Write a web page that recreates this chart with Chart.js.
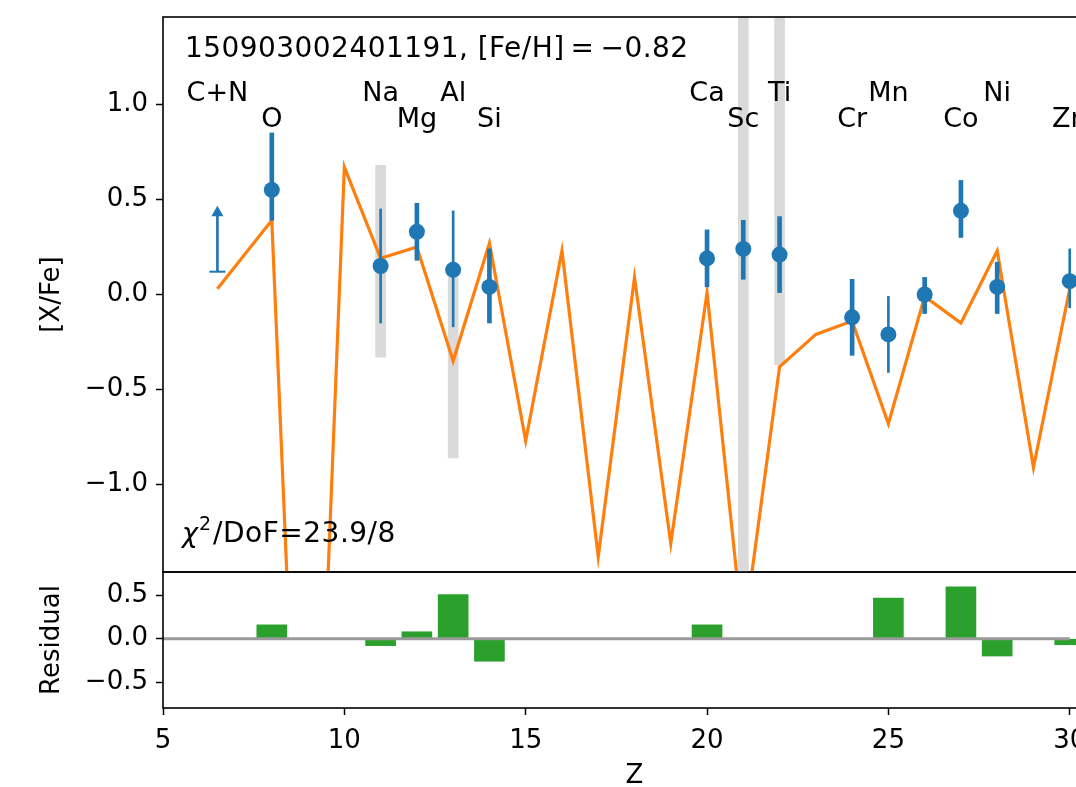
<!DOCTYPE html>
<html>
<head>
<meta charset="utf-8">
<script src="https://cdn.jsdelivr.net/npm/chart.js@4.4.1/dist/chart.umd.min.js"></script>
<style>
  html, body { margin: 0; padding: 0; overflow: hidden; background: #fff; }
  #wrap { position: relative; width: 1076px; height: 787px; overflow: hidden; }
  canvas { position: absolute; left: 0; top: 0; }
</style>
</head>
<body>
<div id="wrap">
  <canvas id="resid" width="1110" height="787"></canvas>
  <canvas id="abund" width="1110" height="787"></canvas>
</div>
<script>
// star header
const starId = "150903002401191";
const feH = -0.82;
const chi2 = 23.9;
const dof = 8;

// measured abundances
const elements = ["O", "Na", "Mg", "Al", "Si", "Ca", "Sc", "Ti", "Cr", "Mn", "Fe", "Co", "Ni", "Zn"];
const elemZ    = [8, 11, 12, 13, 14, 20, 21, 22, 24, 25, 26, 27, 28, 30];
const xfe      = [0.55, 0.15, 0.33, 0.13, 0.04, 0.19, 0.24, 0.21, -0.12, -0.21, 0.00, 0.44, 0.04, 0.07];
const errUp    = [0.30, 0.30, 0.15, 0.31, 0.20, 0.15, 0.15, 0.20, 0.20, 0.20, 0.09, 0.16, 0.13, 0.17];
const errDown  = [0.16, 0.30, 0.15, 0.30, 0.19, 0.15, 0.16, 0.20, 0.20, 0.20, 0.10, 0.14, 0.14, 0.14];
const thinErr  = ["Na", "Al", "Mn", "Zn"]; // drawn with the narrow bar

// C+N is a lower limit
const cnZ = 6.5;
const cnLow = 0.12;
const cnHigh = 0.43;

// labels above the points
const labelNames = ["C+N", "O", "Na", "Mg", "Al", "Si", "Ca", "Sc", "Ti", "Cr", "Mn", "Co", "Ni", "Zn"];
const labelZ     = [6.5, 8, 11, 12, 13, 14, 20, 21, 22, 24, 25, 27, 28, 30];

// best fit yield model
const modelZ   = [6.5, 8, 9, 10, 11, 12, 13, 14, 15, 16, 17, 18, 19, 20, 21, 22, 23, 24, 25, 26, 27, 28, 29, 30];
const modelXFe = [0.03, 0.39, -4.1, 0.67, 0.19, 0.25, -0.35, 0.27, -0.77, 0.23, -1.38, 0.09, -1.31, 0.01,
                  -1.8, -0.38, -0.21, -0.14, -0.68, -0.01, -0.15, 0.23, -0.91, 0.03];

// model spread for some elements
const bandZ  = [11, 13, 21, 22];
const bandLo = [-0.33, -0.86, -2.0, -0.37];
const bandHi = [0.68, 0.09, 2.0, 2.0];

// residuals (data - model)
const resZ   = [6.5, 8, 11, 12, 13, 14, 20, 21, 22, 24, 25, 26, 27, 28, 30];
const resVal = [-0.01, 0.16, -0.08, 0.08, 0.51, -0.26, 0.16, -0.01, -0.01, -0.01, 0.47, -0.01, 0.60, -0.20, -0.07];
const zeroZ  = [5, 30];

// axes
const xMin = 5, xMax = 31;
const xTicks = [5, 10, 15, 20, 25, 30];
const yTopRange = [-1.46, 1.46];
const yTopTicks = [-1.0, -0.5, 0.0, 0.5, 1.0];
const yResRange = [-0.8, 0.77];
const yResTicks = [-0.5, 0.0, 0.5];

const BLUE = "#1f77b4", ORANGE = "#ff7f0e", GREEN = "#2ca02c";
const FONT = '"DejaVu Sans"';
const MINUS = "\u2212";

function fmt(v, d) {
  return v.toFixed(d).replace("-", MINUS);
}

function eixoY(range, ticks) {
  return {
    type: "linear",
    min: range[0],
    max: range[1],
    afterFit: s => { s.width = 163; s.paddingTop = 0; s.paddingBottom = 0; },
    afterBuildTicks: s => { s.ticks = ticks.map(v => ({ value: v })); },
    grid: { drawOnChartArea: false, drawTicks: true, tickLength: 7, tickColor: "#000", tickWidth: 1.5, offset: false },
    border: { display: false },
    ticks: { color: "#000", font: { family: FONT, size: 26 }, padding: 8, callback: v => fmt(v, 1) }
  };
}

function moldura(ctx, a) {
  ctx.save();
  ctx.strokeStyle = "#000";
  ctx.lineWidth = 1.6;
  ctx.strokeRect(a.left, a.top, a.right - a.left, a.bottom - a.top);
  ctx.restore();
}

function textoVertical(ctx, txt, x, y) {
  ctx.save();
  ctx.translate(x, y);
  ctx.rotate(-Math.PI / 2);
  ctx.textAlign = "center";
  ctx.textBaseline = "alphabetic";
  ctx.fillText(txt, 0, 0);
  ctx.restore();
}

// ---------- top panel ----------
const thick = [], thin = [];
elements.forEach((el, i) => {
  const bar = { x: elemZ[i], y: [xfe[i] - errDown[i], xfe[i] + errUp[i]] };
  (thinErr.includes(el) ? thin : thick).push(bar);
});
thin.push({ x: cnZ, y: [cnLow, cnHigh] });

const topPlugin = {
  id: "topTexts",
  afterDraw(chart) {
    const ctx = chart.ctx, a = chart.chartArea;
    const xs = chart.scales.x, ys = chart.scales.y;
    moldura(ctx, a);

    ctx.save();
    ctx.fillStyle = "#000";
    ctx.textBaseline = "alphabetic";

    ctx.font = `28px ${FONT}`;
    ctx.textAlign = "left";
    ctx.letterSpacing = "0.45px";
    ctx.fillText(`${starId}, [Fe/H]\u2009=\u2009${fmt(feH, 2)}`, a.left + 22, a.top + 40);
    ctx.letterSpacing = "0px";

    // element names, alternating rows
    ctx.font = `27px ${FONT}`;
    ctx.textAlign = "center";
    labelNames.forEach((name, i) => {
      const row = i % 2 === 0 ? 1.02 : 0.88;
      ctx.fillText(name, xs.getPixelForValue(labelZ[i]), ys.getPixelForValue(row));
    });

    // chi2 / DoF
    let x = a.left + 19;
    const y = a.bottom - 30;
    ctx.textAlign = "left";
    ctx.font = `italic 27px ${FONT}`;
    ctx.fillText("\u03c7", x, y);
    x += ctx.measureText("\u03c7").width + 1;
    ctx.font = `19px ${FONT}`;
    ctx.fillText("2", x, y - 12);
    x += ctx.measureText("2").width + 2;
    ctx.font = `28px ${FONT}`;
    ctx.letterSpacing = "0.5px";
    ctx.fillText(`/DoF=${chi2}/${dof}`, x, y);
    ctx.letterSpacing = "0px";

    ctx.font = `26px ${FONT}`;
    textoVertical(ctx, "[X/Fe]", 59, (a.top + a.bottom) / 2);
    ctx.restore();
  }
};

new Chart(document.getElementById("abund"), {
  type: "scatter",
  data: {
    datasets: [
      {
        type: "scatter",
        data: elemZ.map((z, i) => ({ x: z, y: xfe[i] })),
        backgroundColor: BLUE,
        borderWidth: 0,
        pointRadius: 8,
        order: 0
      },
      {
        type: "scatter",
        data: [{ x: cnZ, y: cnLow }, { x: cnZ, y: cnHigh }],
        pointStyle: ["line", "triangle"],
        pointRadius: [8, 5],
        backgroundColor: BLUE,
        borderColor: BLUE,
        borderWidth: 2,
        order: 0
      },
      { type: "bar", data: thick, backgroundColor: BLUE, barThickness: 4, grouped: false, clip: 0, order: 1 },
      { type: "bar", data: thin, backgroundColor: BLUE, barThickness: 2, grouped: false, clip: 0, order: 1 },
      {
        type: "line",
        data: modelZ.map((z, i) => ({ x: z, y: modelXFe[i] })),
        borderColor: ORANGE,
        borderWidth: 3.2,
        pointRadius: 0,
        tension: 0,
        clip: 0,
        order: 2
      },
      {
        type: "bar",
        data: bandZ.map((z, i) => ({ x: z, y: [bandLo[i], bandHi[i]] })),
        backgroundColor: "#dadada",
        barThickness: 10,
        grouped: false,
        clip: 0,
        order: 3
      }
    ]
  },
  options: {
    responsive: false,
    animation: false,
    events: [],
    layout: { autoPadding: false, padding: { left: 0, top: 17, right: 4, bottom: 215 } },
    plugins: { legend: { display: false }, tooltip: { enabled: false } },
    scales: {
      x: { type: "linear", min: xMin, max: xMax, offset: false, display: false, grid: { offset: false } },
      y: eixoY(yTopRange, yTopTicks)
    }
  },
  plugins: [topPlugin]
});

// ---------- residual panel ----------
const resPlugin = {
  id: "resTexts",
  afterDraw(chart) {
    const ctx = chart.ctx, a = chart.chartArea;
    moldura(ctx, a);
    ctx.save();
    ctx.fillStyle = "#000";
    ctx.font = `26px ${FONT}`;
    textoVertical(ctx, "Residual", 59, (a.top + a.bottom) / 2);
    ctx.textAlign = "center";
    ctx.textBaseline = "alphabetic";
    ctx.fillText("Z", (a.left + a.right) / 2, 783);
    ctx.restore();
  }
};

new Chart(document.getElementById("resid"), {
  type: "scatter",
  data: {
    datasets: [
      {
        type: "line",
        data: zeroZ.map(z => ({ x: z, y: 0 })),
        borderColor: "#9a9a9a",
        borderWidth: 3,
        pointRadius: 0,
        clip: 0,
        order: 0
      },
      {
        type: "bar",
        data: resZ.map((z, i) => ({ x: z, y: resVal[i] })),
        backgroundColor: GREEN,
        barThickness: 30,
        grouped: false,
        clip: 0,
        order: 1
      }
    ]
  },
  options: {
    responsive: false,
    animation: false,
    events: [],
    layout: { autoPadding: false, padding: { left: 0, top: 572, right: 4, bottom: 0 } },
    plugins: { legend: { display: false }, tooltip: { enabled: false } },
    scales: {
      x: {
        type: "linear",
        min: xMin,
        max: xMax,
        offset: false,
        afterFit: s => { s.height = 79; s.paddingLeft = 0; s.paddingRight = 0; },
        afterBuildTicks: s => { s.ticks = xTicks.map(v => ({ value: v })); },
        grid: { drawOnChartArea: false, drawTicks: true, tickLength: 7, tickColor: "#000", tickWidth: 1.5, offset: false },
        border: { display: false },
        ticks: { color: "#000", font: { family: FONT, size: 26 }, padding: 11, maxRotation: 0, callback: v => String(v) }
      },
      y: eixoY(yResRange, yResTicks)
    }
  },
  plugins: [resPlugin]
});
</script>
</body>
</html>
